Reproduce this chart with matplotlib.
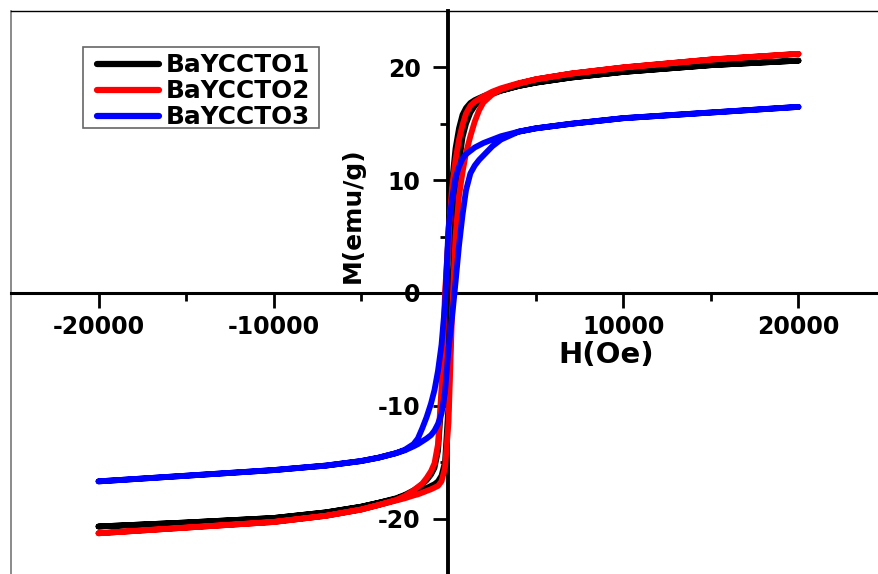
import matplotlib
matplotlib.use("Agg")
import matplotlib.pyplot as plt
from matplotlib.patches import Rectangle
from matplotlib.ticker import FixedLocator

plt.rcParams['font.family'] = ['DejaVu Sans']
plt.rcParams['font.weight'] = 'bold'
plt.rcParams['axes.unicode_minus'] = False

# Applied field grid (Oe)
field = [-20000, -15000, -10000, -7000, -5000, -4000, -3000, -2500, -2000, -1750,
         -1500, -1250, -1000, -800, -600, -400, -200, 0, 200, 400, 600, 800, 1000,
         1250, 1500, 1750, 2000, 2500, 3000, 4000, 5000, 7000, 10000, 15000, 20000]

# Magnetization (emu/g): decreasing-field branch and increasing-field branch
m1_down = [-20.7, -20.35, -19.95, -19.45, -18.95, -18.6, -18.2, -17.9, -17.5, -17.25,
           -16.95, -16.6, -16.1, -15.5, -14.0, -9.5, -1.5, 5.3, 9.8, 12.8, 14.6,
           15.8, 16.4, 16.85, 17.1, 17.28, 17.45, 17.7, 17.95, 18.35, 18.65, 19.1,
           19.6, 20.2, 20.6]
m1_up = [-20.7, -20.35, -19.95, -19.45, -18.95, -18.6, -18.25, -17.95, -17.7, -17.6,
         -17.45, -17.3, -17.1, -16.95, -16.7, -16.2, -15.0, -10.0, 0.0, 7.5, 11.5,
         13.8, 15.0, 16.0, 16.6, 17.0, 17.3, 17.65, 17.93, 18.35, 18.65, 19.1,
         19.6, 20.2, 20.6]

m2_down = [-21.3, -20.8, -20.3, -19.75, -19.2, -18.8, -18.35, -18.0, -17.5, -17.2,
           -16.9, -16.4, -15.8, -15.1, -13.4, -8.5, 0.0, 5.0, 9.3, 11.8, 13.6, 14.9,
           15.9, 16.6, 16.95, 17.2, 17.45, 17.85, 18.15, 18.6, 18.95, 19.45, 20.0,
           20.7, 21.2]
m2_up = [-21.3, -20.8, -20.3, -19.75, -19.2, -18.8, -18.4, -18.2, -17.95, -17.85,
         -17.7, -17.55, -17.4, -17.25, -17.1, -16.7, -15.5, -11.5, -2.0, 5.0, 8.6,
         10.7, 12.4, 13.9, 15.2, 16.2, 16.9, 17.6, 18.05, 18.55, 18.95, 19.45, 20.0,
         20.7, 21.2]

m3_down = [-16.7, -16.2, -15.7, -15.3, -14.9, -14.6, -14.2, -13.9, -13.4, -12.9,
           -12.0, -11.0, -9.8, -8.6, -6.9, -4.6, -1.0, 5.8, 8.3, 10.2, 11.2, 11.9,
           12.3, 12.6, 12.9, 13.1, 13.3, 13.6, 13.9, 14.3, 14.6, 15.0, 15.5, 16.0,
           16.5]
m3_up = [-16.7, -16.2, -15.7, -15.3, -14.9, -14.6, -14.2, -13.95, -13.6, -13.4,
         -13.15, -12.9, -12.6, -12.2, -11.6, -10.7, -8.8, -5.0, -2.2, 0.9, 4.2, 6.9,
         9.1, 10.6, 11.3, 11.8, 12.2, 13.0, 13.6, 14.3, 14.6, 15.0, 15.5, 16.0,
         16.5]

samples = ["BaYCCTO1", "BaYCCTO2", "BaYCCTO3"]
colors = ["#000000", "#ff0000", "#0000ff"]
branches = [(m1_down, m1_up), (m2_down, m2_up), (m3_down, m3_up)]

W, H = 879, 574
fig = plt.figure(figsize=(W / 100, H / 100), dpi=100)
ax = fig.add_axes([11 / W, -1 / H, 875 / W, 564 / H])

for name, color, (down, up) in zip(samples, colors, branches):
    loop_h = field[::-1] + field
    loop_m = down[::-1] + up
    ax.plot(loop_h, loop_m, color=color, lw=4.2, label=name, zorder=3,
            solid_capstyle='round', solid_joinstyle='round')

ax.set_xlim(-25000, 25000)
ax.set_ylim(-25, 25)

# Axes crossing at the origin, thin frame on top and left
ax.spines['left'].set_position(('data', 0))
ax.spines['bottom'].set_position(('data', 0))
ax.spines['left'].set_linewidth(2.8)
ax.spines['bottom'].set_linewidth(2.2)
ax.spines['right'].set_visible(False)
ax.spines['top'].set_linewidth(1.0)
ax.plot([0, 0], [0, 1], transform=ax.transAxes, color='#777777', lw=1.2,
        clip_on=False)

ax.xaxis.set_major_locator(FixedLocator([-20000, -10000, 10000, 20000]))
ax.xaxis.set_minor_locator(FixedLocator([-15000, -5000, 5000, 15000]))
ax.yaxis.set_major_locator(FixedLocator([-20, -10, 0, 10, 20]))
ax.yaxis.set_minor_locator(FixedLocator([-15, -5, 5, 15]))
ax.tick_params(which='major', direction='out', length=11, width=2.0,
               labelsize=17, pad=5)
ax.tick_params(which='minor', direction='out', length=5.5, width=2.0)
ax.tick_params(axis='y', which='major', pad=9)
for lab in ax.get_xticklabels() + ax.get_yticklabels():
    lab.set_fontweight('bold')

ax.text(9000, -5.5, "H(Oe)", fontsize=21, fontweight='bold',
        ha='center', va='center')
ax.text(-5460, 6.9, "M(emu/g)", fontsize=18, fontweight='bold',
        rotation=90, ha='center', va='center')

# Legend entries without their own frame; the box is drawn separately
leg = ax.legend(loc='upper left', bbox_to_anchor=(97 / W, 1 - 53.5 / H),
                bbox_transform=fig.transFigure, borderaxespad=0, borderpad=0,
                fontsize=17.8, frameon=False, handlelength=2.5,
                handletextpad=0.3, labelspacing=0.08)
for t in leg.get_texts():
    t.set_fontweight('bold')
for ln in leg.get_lines():
    ln.set_linewidth(4.5)
    ln.set_solid_capstyle('round')
fig.add_artist(Rectangle((83 / W, 1 - 128 / H), (319 - 83) / W, (128 - 47) / H,
                         transform=fig.transFigure, fill=False,
                         edgecolor='#666666', lw=1.2))

fig.savefig("out.png", dpi=100)
